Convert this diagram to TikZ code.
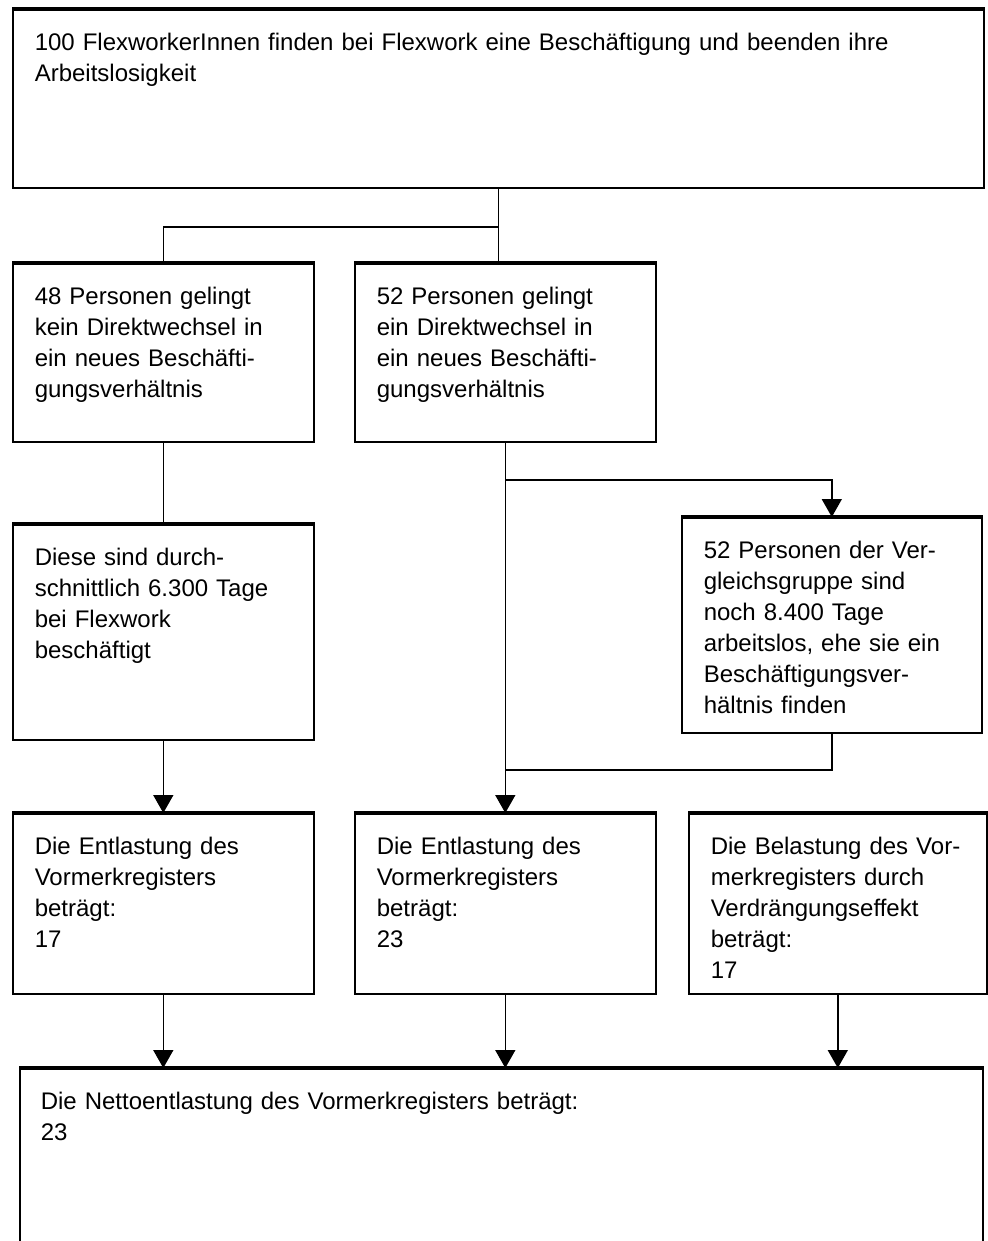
\documentclass[tikz,border=0pt]{standalone}
\usepackage{fontspec}
\setmainfont{Liberation Sans}
\usepackage{tikz}
\usetikzlibrary{arrows.meta}

\begin{document}
\begin{tikzpicture}
    [
    x=0.5pt, y=-0.5pt,
    box/.style={draw, line width=0.8pt, anchor=north west, align=left,
      font=\fontsize{12}{15.5}\selectfont,
      inner xsep=11pt, inner ysep=11.5pt, text height=9pt, text depth=57pt,
      text width=128.5pt},
    topedge/.style={line width=2.2pt},
    conn/.style={line width=0.8pt},
    arrow/.style={conn, -{Triangle[length=9pt,width=10pt]}},
    ]
    \useasboundingbox (0,0) rectangle (988,1241);

    \node (1) at (12,9) [box, text width=463.5pt] {100 FlexworkerInnen finden bei Flexwork eine Beschäftigung und beenden ihre\\ Arbeitslosigkeit};
    \node (2) at (12,263) [box] {48 Personen gelingt\\ kein Direktwechsel in\\ ein neues Beschäfti-\\ gungsverhältnis};
    \node (3) at (354,263) [box] {52 Personen gelingt\\ ein Direktwechsel in\\ ein neues Beschäfti-\\ gungsverhältnis};
    \node (4) at (12,524) [box, text depth=75.5pt] {Diese sind durch-\\ schnittlich 6.300 Tage\\ bei Flexwork\\ beschäftigt};
    \node (5) at (681,517) [box, text width=128pt, text depth=75.5pt] {52 Personen der Ver-\\ gleichsgruppe sind\\ noch 8.400 Tage\\ arbeitslos, ehe sie ein\\ Beschäftigungsver-\\ hältnis finden};
    \node (6) at (12,813) [box, text depth=58pt] {Die Entlastung des\\ Vormerkregisters\\ beträgt:\\ 17};
    \node (7) at (354,813) [box, text depth=58pt] {Die Entlastung des\\ Vormerkregisters\\ beträgt:\\ 23};
    \node (8) at (688,813) [box, text width=127pt, text depth=58pt] {Die Belastung des Vor-\\ merkregisters durch\\ Verdrängungseffekt\\ beträgt:\\ 17};
    \node (9) at (19,1068) [box, inner xsep=10.5pt, text width=460.5pt, text depth=100pt] {Die Nettoentlastung des Vormerkregisters beträgt:\\ 23};

    \coordinate (j1) at (1.south |- 0,227);
    \coordinate (j2) at (3.south |- 0,480);
    \coordinate (j3) at (3.south |- 0,770);

    \draw [conn] (1.south) -- (1.south |- 3.north);
    \draw [conn] (j1) -| (2.north);
    \draw [conn] (2.south) -- (4.north);
    \draw [arrow] (4.south) -- (6.north);
    \draw [arrow] (3.south) -- (7.north);
    \draw [arrow] (j2) -| (5.north);
    \draw [conn] (5.south) |- (j3);
    \draw [arrow] (6.south) -- (6.south |- 9.north);
    \draw [arrow] (7.south) -- (7.south |- 9.north);
    \draw [arrow] (8.south) -- (8.south |- 9.north);

    \foreach \n in {1,...,9}
      \draw [topedge] (\n.north west) -- (\n.north east);
  \end{tikzpicture}
\end{document}
